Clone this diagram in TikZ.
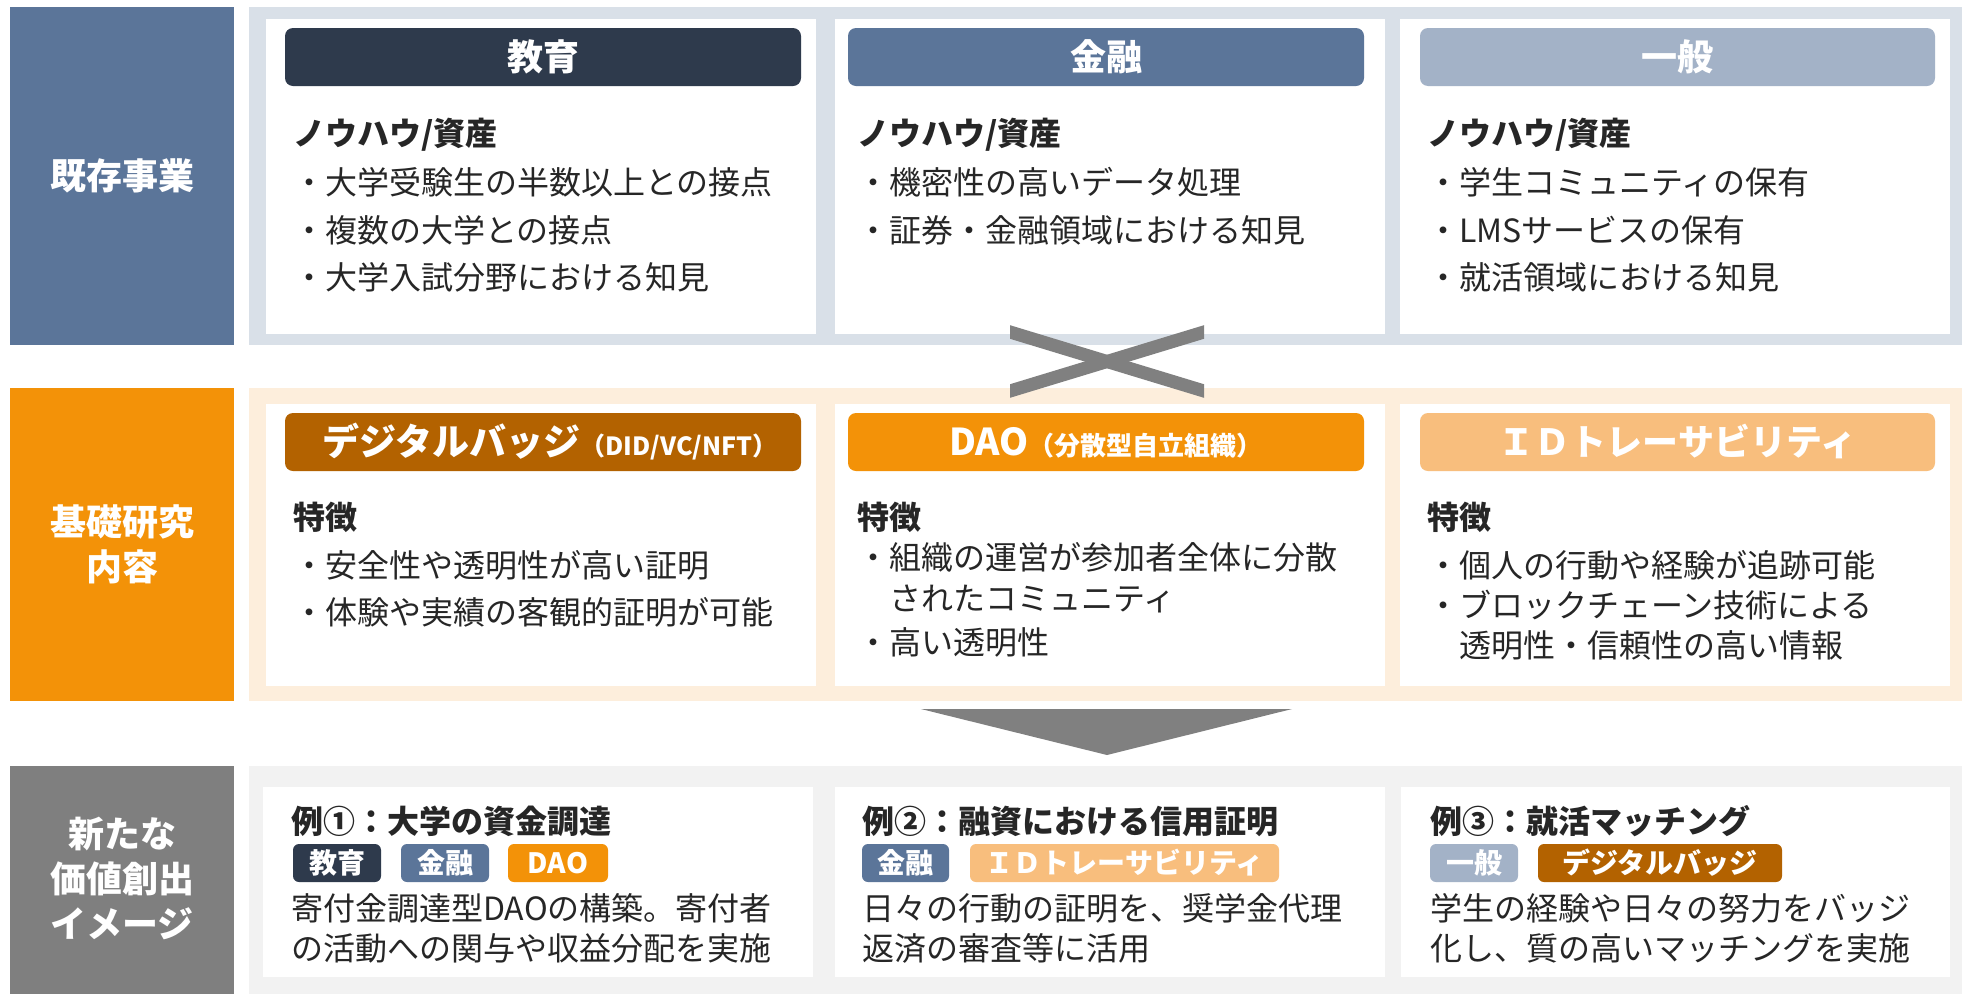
\documentclass[tikz,border=0pt]{standalone}
\usepackage{fontspec}
\setmainfont{Noto Sans CJK JP}
\definecolor{navy}{HTML}{2E3A4C}
\definecolor{blu}{HTML}{5B7599}
\definecolor{lblu}{HTML}{A3B2C7}
\definecolor{bgblu}{HTML}{D9E0E8}
\definecolor{org}{HTML}{F39208}
\definecolor{dorg}{HTML}{B36200}
\definecolor{lorg}{HTML}{F8BE7D}
\definecolor{bgorg}{HTML}{FDEEDC}
\definecolor{gry}{HTML}{7F7F7F}
\definecolor{bggry}{HTML}{F2F2F2}
\definecolor{ink}{HTML}{262626}
\definecolor{xgray}{HTML}{808080}
\newcommand\rnode[7]{\node[#6, inner sep=0pt, outer sep=0pt, minimum width={(#4)-(#2)}, minimum height={(#5)-(#3)}, anchor=center] (#1) at ({((#2)+(#4))/2},{((#3)+(#5))/2}) {#7};}
\tikzset{
  panel/.style={fill=#1, draw=none},
  pill/.style={fill=#1, draw=none, rounded corners=8pt, text=white, font=\fontsize{36}{40}\selectfont\bfseries, text height=31.7pt, text depth=4.3pt},
  tag/.style={fill=#1, draw=none, rounded corners=6pt, text=white, font=\fontsize{28}{32}\selectfont\bfseries, text height=24.6pt, text depth=3.4pt},
  rowlbl/.style={text=white, font=\fontsize{36}{45}\selectfont\bfseries, align=center, inner sep=0pt},
  txt/.style={anchor=west, inner sep=0pt, text=ink, font=\fontsize{32}{38}\selectfont, text height=28.2pt, text depth=3.8pt},
  hd/.style={txt, font=\fontsize{32}{38}\selectfont\bfseries},
}
\begin{document}
\begin{tikzpicture}[x=1pt,y=-1pt]
\useasboundingbox[fill=white] (0,0) rectangle (1962,994);
% ---------- Row 1
\rnode{L1}{10}{7}{234}{345}{panel=blu}{}
\node[rowlbl] (L1t) at (L1.center) {既存事業};
\rnode{B1}{249}{7}{1962}{345}{panel=bgblu}{}
\rnode{W11}{266}{19}{816}{334}{panel=white}{}
\rnode{W12}{835}{19}{1385}{334}{panel=white}{}
\rnode{W13}{1400}{19}{1950}{334}{panel=white}{}
\rnode{P11}{285}{28}{801}{86}{pill=navy}{教育}
\rnode{P12}{848}{28}{1364}{86}{pill=blu}{金融}
\rnode{P13}{1420}{28}{1935}{86}{pill=lblu}{一般}
\node[hd] (h11) at (293,133) {ノウハウ/資産};
\node[txt] (t111) at (293,182) {・大学受験生の半数以上との接点};
\node[txt] (t112) at (293,230) {・複数の大学との接点};
\node[txt] (t113) at (293,277) {・大学入試分野における知見};
\node[hd] (h12) at (857,133) {ノウハウ/資産};
\node[txt] (t121) at (857,182) {・機密性の高いデータ処理};
\node[txt] (t122) at (857,230) {・証券・金融領域における知見};
\node[hd] (h13) at (1427,133) {ノウハウ/資産};
\node[txt] (t131) at (1427,182) {・学生コミュニティの保有};
\node[txt] (t132) at (1427,230) {・LMSサービスの保有};
\node[txt] (t133) at (1427,277) {・就活領域における知見};
% ---------- Row 2
\rnode{L2}{10}{388}{234}{701}{panel=org}{}
\node[rowlbl] (L2t) at (L2.center) {基礎研究\\内容};
\rnode{B2}{249}{388}{1962}{701}{panel=bgorg}{}
\rnode{W21}{266}{404}{816}{686}{panel=white}{}
\rnode{W22}{835}{404}{1385}{686}{panel=white}{}
\rnode{W23}{1400}{404}{1950}{686}{panel=white}{}
\rnode{P21}{285}{413}{801}{471}{pill=dorg}{\hspace*{14pt}\fontsize{37}{40}\selectfont デジタルバッジ{\fontsize{25}{28}\selectfont （DID/VC/NFT）}}
\rnode{P22}{848}{413}{1364}{471}{pill=org}{\fontsize{37}{40}\selectfont DAO{\fontsize{26}{28}\selectfont （分散型自立組織）}}
\rnode{P23}{1420}{413}{1935}{471}{pill=lorg}{ＩＤトレーサビリティ}
\node[hd] (h21) at (293,517) {特徴};
\node[txt] (t211) at (293,565) {・安全性や透明性が高い証明};
\node[txt] (t212) at (293,612) {・体験や実績の客観的証明が可能};
\node[hd] (h22) at (857,517) {特徴};
\node[txt] (t221) at (857,557) {・組織の運営が参加者全体に分散};
\node[txt] (t222) at (889,598) {されたコミュニティ};
\node[txt] (t223) at (857,642) {・高い透明性};
\node[hd] (h23) at (1427,517) {特徴};
\node[txt] (t231) at (1427,565) {・個人の行動や経験が追跡可能};
\node[txt] (t232) at (1427,605) {・ブロックチェーン技術による};
\node[txt] (t233) at (1459,645) {透明性・信頼性の高い情報};
% ---------- cross mark
\begin{scope}
\clip (1010,300) rectangle (1204,420);
\draw[xgray, line width=13pt] (990,325.9) -- (1224,397.1);
\draw[xgray, line width=13pt] (990,397.1) -- (1224,325.9);
\end{scope}
% ---------- down arrow
\fill[xgray] (921,709) -- (1292,709) -- (1107,755) -- cycle;
% ---------- Row 3
\rnode{L3}{10}{766}{234}{994}{panel=gry}{}
\node[rowlbl] (L3t) at (122,878) {新たな\\価値創出\\イメージ};
\rnode{B3}{249}{766}{1962}{994}{panel=bggry}{}
\rnode{W31}{263}{787}{813}{977}{panel=white}{}
\rnode{W32}{835}{787}{1385}{977}{panel=white}{}
\rnode{W33}{1401}{787}{1950}{977}{panel=white}{}
\node[hd] (h31) at (291,821) {例①：大学の資金調達};
\rnode{g311}{293}{844}{381}{882}{tag=navy}{教育}
\rnode{g312}{401}{844}{489}{882}{tag=blu}{金融}
\rnode{g313}{508}{844}{608}{882}{tag=org}{DAO}
\node[txt] (t311) at (291,908) {寄付金調達型DAOの構築。寄付者};
\node[txt] (t312) at (291,948) {の活動への関与や収益分配を実施};
\node[hd] (h32) at (862,821) {例②：融資における信用証明};
\rnode{g321}{862}{844}{949}{882}{tag=blu}{金融}
\rnode{g322}{970}{844}{1279}{882}{tag=lorg}{ＩＤトレーサビリティ}
\node[txt] (t321) at (862,908) {日々の行動の証明を、奨学金代理};
\node[txt] (t322) at (862,948) {返済の審査等に活用};
\node[hd] (h33) at (1430,821) {例③：就活マッチング};
\rnode{g331}{1430}{844}{1518}{882}{tag=lblu}{一般}
\rnode{g332}{1538}{844}{1782}{882}{tag=dorg}{デジタルバッジ}
\node[txt] (t331) at (1430,908) {学生の経験や日々の努力をバッジ};
\node[txt] (t332) at (1430,948) {化し、質の高いマッチングを実施};
\end{tikzpicture}
\end{document}
